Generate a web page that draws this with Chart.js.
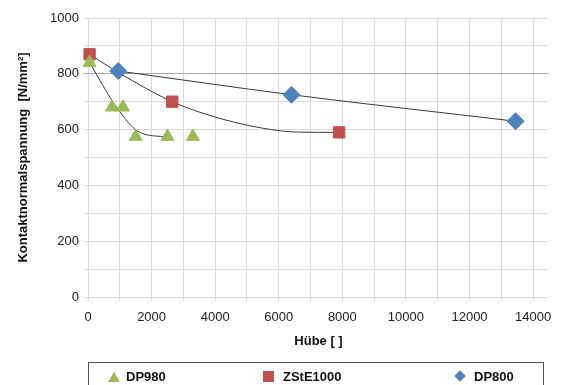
<!DOCTYPE html>
<html>
<head>
<meta charset="utf-8">
<script src="https://cdn.jsdelivr.net/npm/chart.js@4"></script>
<style>
  body { margin: 0; background: #fff; font-family: "Liberation Sans", Arial, sans-serif; }
  #wrap { position: relative; width: 564px; height: 385px; overflow: hidden; }
  #grafica { position: absolute; left: 0; top: 0; }
  #leyenda { position: absolute; left: 88px; top: 362px; width: 456px; height: 40px;
             border: 1px solid #555; box-sizing: border-box; }
  .item { position: absolute; top: 6px; font-weight: bold; font-size: 13px; color: #111; }
  .marca { position: absolute; }
</style>
</head>
<body>
<div id="wrap">
  <canvas id="grafica" width="564" height="385"></canvas>
  <div id="leyenda">
    <div class="marca" style="left:19px;top:9px;width:0;height:0;border-left:6px solid transparent;border-right:6px solid transparent;border-bottom:10px solid #9bbb59;"></div>
    <div class="item" style="left:37px;">DP980</div>
    <div class="marca" style="left:174px;top:8px;width:11px;height:11px;background:#c0504d;"></div>
    <div class="item" style="left:194px;">ZStE1000</div>
    <div class="marca" style="left:367px;top:9px;width:8px;height:8px;background:#4f81bd;transform:rotate(45deg);"></div>
    <div class="item" style="left:385px;">DP800</div>
  </div>
</div>
<script>
// Messpunkte (Hübe, Kontaktnormalspannung)
const dp980 = [[50, 840], [750, 680], [1100, 680], [1500, 575], [2500, 575], [3300, 575]];
const zste1000 = [[50, 870], [2650, 700], [7900, 590]];
const dp800 = [[950, 810], [6400, 725], [13450, 630]];

// Trendlinien
const trendDP980 = [[50, 840], [900, 680], [1600, 592], [2500, 573]];
const trendZStE = [[50, 870], [950, 805], [2650, 700], [4000, 645], [5500, 605], [6600, 591], [7900, 590]];
const trendDP800 = [[950, 810], [6400, 725], [13450, 630]];

// Gitterlinien x (beschriftet jede 2000)
const xGitter = [0, 1000, 2000, 3000, 4000, 5000, 6000, 7000, 8000, 9000, 10000, 11000, 12000, 13000, 14000];
const xMax = 14500;
const yMax = 1000;

function puntos(arr) {
    return arr.map(p => ({ x: p[0], y: p[1] }));
}

function linea(arr) {
    return {
        data: puntos(arr),
        showLine: true,
        borderColor: '#3a3a3a',
        borderWidth: 1,
        pointRadius: 0,
        cubicInterpolationMode: 'monotone',
        clip: false,
        order: 2
    };
}

const ctx = document.getElementById('grafica').getContext('2d');

new Chart(ctx, {
    type: 'scatter',
    data: {
        datasets: [
            { label: 'DP980', data: puntos(dp980), pointStyle: 'triangle', pointRadius: 7.5,
              backgroundColor: '#9bbb59', borderColor: '#9bbb59', clip: false, order: 0 },
            { label: 'ZStE1000', data: puntos(zste1000), pointStyle: 'rect', pointRadius: 8,
              backgroundColor: '#c0504d', borderColor: '#c0504d', clip: false, order: 0 },
            { label: 'DP800', data: puntos(dp800), pointStyle: 'rectRot', pointRadius: 8.5,
              backgroundColor: '#4f81bd', borderColor: '#4f81bd', clip: false, order: 0 },
            linea(trendDP980),
            linea(trendZStE),
            linea(trendDP800)
        ]
    },
    options: {
        responsive: false,
        animation: false,
        layout: { padding: { left: 12, top: 18, right: 15, bottom: 36 } },
        plugins: {
            legend: { display: false },
            tooltip: { enabled: false }
        },
        scales: {
            x: {
                type: 'linear',
                min: 0,
                max: xMax,
                afterFit: s => { s.height = 52; },
                afterBuildTicks: s => { s.ticks = xGitter.map(v => ({ value: v })); },
                ticks: {
                    autoSkip: false,
                    maxRotation: 0,
                    color: '#222',
                    font: { family: 'Liberation Sans', size: 13 },
                    padding: 9,
                    callback: v => (v % 2000 === 0 ? String(v) : '')
                },
                grid: { color: '#d9d9d9', tickLength: 4 },
                border: { display: false },
                title: {
                    display: true,
                    text: 'Hübe [ ]',
                    color: '#111',
                    font: { family: 'Liberation Sans', size: 13, weight: 'bold' },
                    padding: { top: 2, bottom: 0 }
                }
            },
            y: {
                min: 0,
                max: yMax,
                afterFit: s => { s.width = 76; },
                ticks: {
                    stepSize: 100,
                    color: '#222',
                    font: { family: 'Liberation Sans', size: 13 },
                    padding: 4,
                    callback: v => (v % 200 === 0 ? String(v) : '')
                },
                grid: {
                    color: c => (c.tick && c.tick.value === 800 ? '#a6a6a6' : '#d9d9d9'),
                    tickLength: 5
                },
                border: { display: false },
                title: {
                    display: true,
                    text: 'Kontaktnormalspannung  [N/mm²]',
                    color: '#111',
                    font: { family: 'Liberation Sans', size: 13, weight: 'bold' },
                    padding: { top: 4, bottom: 4 }
                }
            }
        }
    }
});
</script>
</body>
</html>
